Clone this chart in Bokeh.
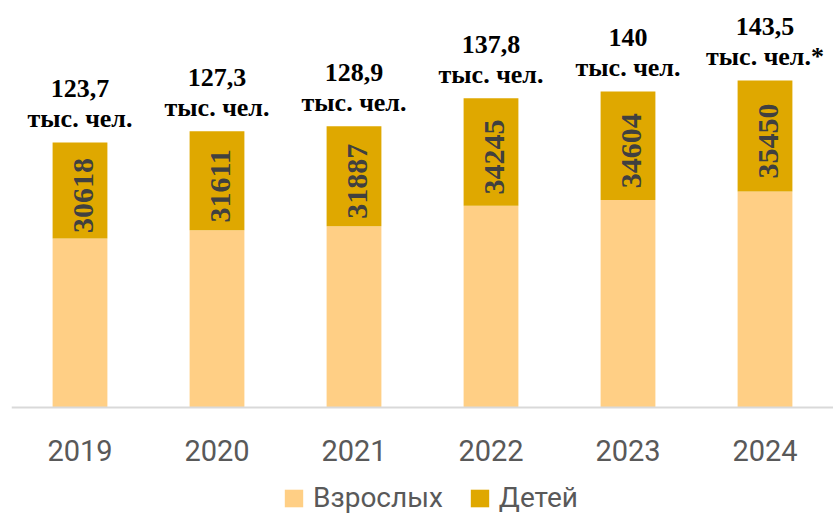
from bokeh.plotting import figure
from bokeh.models import ColumnDataSource, FactorRange, Range1d, Legend, LegendItem
from bokeh.core.properties import value
from bokeh.embed import file_html
from bokeh.resources import INLINE
import math

years = ["2019", "2020", "2021", "2022", "2023", "2024"]
totals_thousand = [123.7, 127.3, 128.9, 137.8, 140.0, 143.5]
total_labels = ["123,7", "127,3", "128,9", "137,8", "140", "143,5"]
unit_labels = ["тыс. чел.", "тыс. чел.", "тыс. чел.", "тыс. чел.", "тыс. чел.", "тыс. чел.*"]
children = [30618, 31611, 31887, 34245, 34604, 35450]
adults = [round(t * 1000) - c for t, c in zip(totals_thousand, children)]

# layout constants (axis baseline of the value scale, plot geometry)
AXIS_BASE = 39200
Y_TOP = 169000
BASE_PX = 407
H = 515
units_per_px = (Y_TOP - AXIS_BASE) / BASE_PX
y_start = AXIS_BASE - (H - BASE_PX) * units_per_px

tops = [a + c for a, c in zip(adults, children)]
mids = [a + c / 2 for a, c in zip(adults, children)]

src = ColumnDataSource(dict(
    years=years, adults=adults, children=children, tops=tops, mids=mids,
    base=[AXIS_BASE] * len(years), total_labels=total_labels, unit_labels=unit_labels,
    child_labels=[str(c) for c in children],
))

ADULT_COLOR = "#FFCF85"
CHILD_COLOR = "#DFA800"

p = figure(frame_width=822, frame_height=H,
           x_range=FactorRange(*years, range_padding=0),
           y_range=Range1d(y_start, Y_TOP), output_backend="svg", toolbar_location=None,
           min_border_left=11, min_border_right=0, min_border_top=0, min_border_bottom=0)

r_ad = p.vbar(x="years", bottom="base", top="adults", width=0.4, source=src,
              fill_color=ADULT_COLOR, line_color=None)
r_ch = p.vbar(x="years", bottom="adults", top="tops", width=0.4, source=src,
              fill_color=CHILD_COLOR, line_color=None)

p.text(x="years", y="mids", text="child_labels", source=src, angle=math.pi / 2,
       x_offset=3, y_offset=5,
       text_align="center", text_baseline="middle", text_font=value("Liberation Serif"),
       text_font_style="bold", text_font_size="30px", text_color="#404040")

p.text(x="years", y="tops", text="unit_labels", source=src, y_offset=-24,
       text_align="center", text_baseline="alphabetic", text_font=value("Liberation Serif"),
       text_font_style="bold", text_font_size="26px", text_color="#000000")
p.text(x="years", y="tops", text="total_labels", source=src, y_offset=-54,
       text_align="center", text_baseline="alphabetic", text_font=value("Liberation Serif"),
       text_font_style="bold", text_font_size="26px", text_color="#000000")

p.yaxis.visible = False
p.xgrid.grid_line_color = None
p.ygrid.grid_line_color = None
p.outline_line_color = None
p.xaxis.fixed_location = AXIS_BASE
p.xaxis.axis_line_color = "#D9D9D9"
p.xaxis.axis_line_width = 2
p.xaxis.major_tick_line_color = None
p.xaxis.minor_tick_line_color = None
p.xaxis.major_label_text_font = "Roboto"
p.xaxis.major_label_text_font_size = "29px"
p.xaxis.major_label_text_color = "#595959"
p.xaxis.major_label_standoff = 26

legend = Legend(items=[LegendItem(label="Взрослых", renderers=[r_ad]),
                       LegendItem(label="Детей", renderers=[r_ch])],
                orientation="horizontal", location=(271, 1))
legend.glyph_width = 23
legend.glyph_height = 22
legend.label_standoff = 8
legend.spacing = 25
legend.padding = 0
legend.margin = 0
legend.border_line_color = None
legend.background_fill_alpha = 0
legend.label_text_font = "Roboto"
legend.label_text_font_size = "28px"
legend.label_text_color = "#595959"
p.add_layout(legend, "center")

open("out.html", "w").write(file_html(p, INLINE))
